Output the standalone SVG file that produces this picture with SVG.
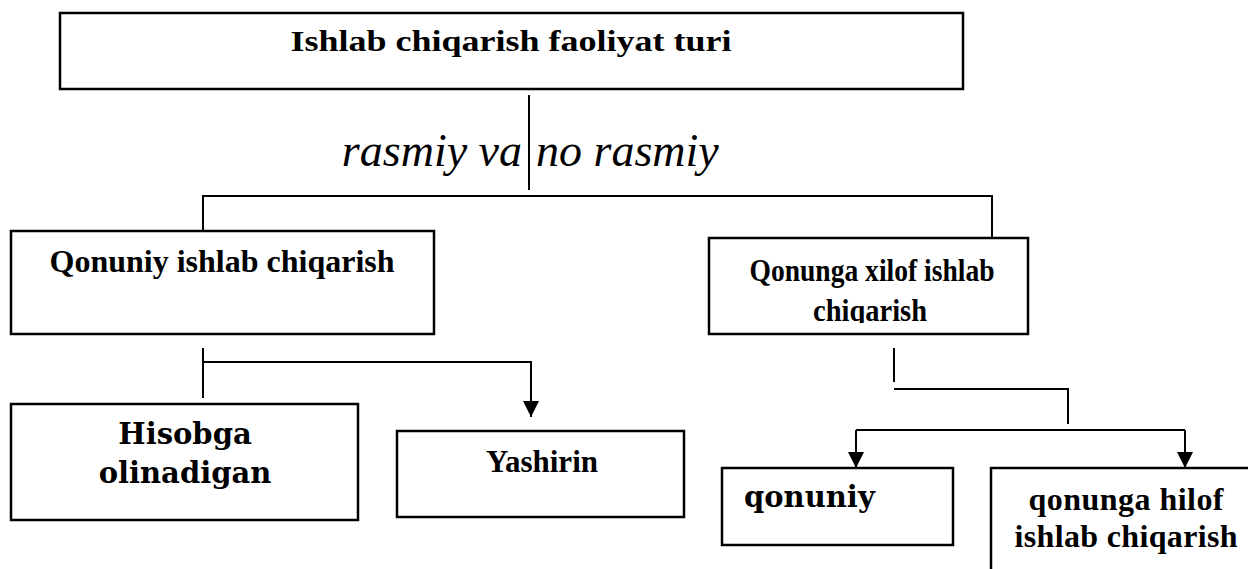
<svg xmlns="http://www.w3.org/2000/svg" width="1248" height="569" viewBox="0 0 1248 569">
<style>
.box{fill:#fff;stroke:#000;stroke-width:2.5}
.ln{fill:none;stroke:#000;stroke-width:2}
.tb{font-family:"Liberation Serif","Times New Roman",serif;font-weight:bold;fill:#000}
.wb{font-family:"DejaVu Serif",serif;font-weight:bold;fill:#000}
.it{font-family:"Liberation Serif","Times New Roman",serif;font-style:italic;font-size:46px;fill:#000}
</style>
<defs>
<marker id="ah" markerWidth="16" markerHeight="16" refX="16" refY="8" orient="auto" markerUnits="userSpaceOnUse">
<path d="M0,0 L16,8 L0,16 Z" fill="#000"/>
</marker>
<clipPath id="cr"><rect x="709" y="238" width="319" height="85"/></clipPath>
</defs>
<rect width="1248" height="569" fill="#fff"/>
<g id="connectors">
<line class="ln" x1="529" y1="95" x2="529" y2="190"/>
<path class="ln" d="M203,230 V196 H992 V238"/>
<line class="ln" x1="203" y1="348" x2="203" y2="398"/>
<path class="ln" d="M203,362 H531 V417" marker-end="url(#ah)"/>
<line class="ln" x1="894" y1="348" x2="894" y2="382"/>
<path class="ln" d="M894,389 H1068 V424"/>
<path class="ln" d="M856,430 H1185"/>
<line class="ln" x1="856" y1="430" x2="856" y2="468" marker-end="url(#ah)"/>
<line class="ln" x1="1185" y1="430" x2="1185" y2="468" marker-end="url(#ah)"/>
</g>
<g id="title">
<rect class="box" x="60" y="13" width="903" height="76"/>
<text class="tb" x="511" y="51" font-size="29" text-anchor="middle" textLength="441" lengthAdjust="spacingAndGlyphs">Ishlab chiqarish faoliyat turi</text>
</g>
<g id="label">
<text class="it" x="522" y="166" text-anchor="end">rasmiy va</text>
<text class="it" x="536" y="166">no rasmiy</text>
</g>
<g id="qonuniy-ishlab">
<rect class="box" x="11" y="231" width="423" height="103"/>
<text class="tb" x="222" y="272" font-size="32" text-anchor="middle">Qonuniy ishlab chiqarish</text>
</g>
<g id="qonunga-xilof">
<rect class="box" x="709" y="238" width="319" height="96"/>
<g clip-path="url(#cr)">
<text class="tb" x="872" y="281" font-size="32" text-anchor="middle" textLength="245" lengthAdjust="spacingAndGlyphs">Qonunga xilof ishlab</text>
<text class="tb" x="870" y="321" font-size="32" text-anchor="middle" textLength="114" lengthAdjust="spacingAndGlyphs">chiqarish</text>
</g>
</g>
<g id="hisobga">
<rect class="box" x="11" y="404" width="347" height="116"/>
<text class="wb" x="185" y="444" font-size="29" text-anchor="middle">Hisobga</text>
<text class="wb" x="185" y="483" font-size="29" text-anchor="middle">olinadigan</text>
</g>
<g id="yashirin">
<rect class="box" x="397" y="431" width="287" height="86"/>
<text class="tb" x="542" y="472" font-size="31" text-anchor="middle">Yashirin</text>
</g>
<g id="qonuniy">
<rect class="box" x="722" y="468" width="231" height="77"/>
<text class="wb" x="744" y="507" font-size="29">qonuniy</text>
</g>
<g id="qonunga-hilof">
<path class="box" d="M991,575 V468 H1255"/>
<text class="tb" x="1126" y="510" font-size="32" text-anchor="middle" textLength="195" lengthAdjust="spacing">qonunga hilof</text>
<text class="tb" x="1126" y="547" font-size="32" text-anchor="middle" textLength="223" lengthAdjust="spacing">ishlab chiqarish</text>
</g>
</svg>
